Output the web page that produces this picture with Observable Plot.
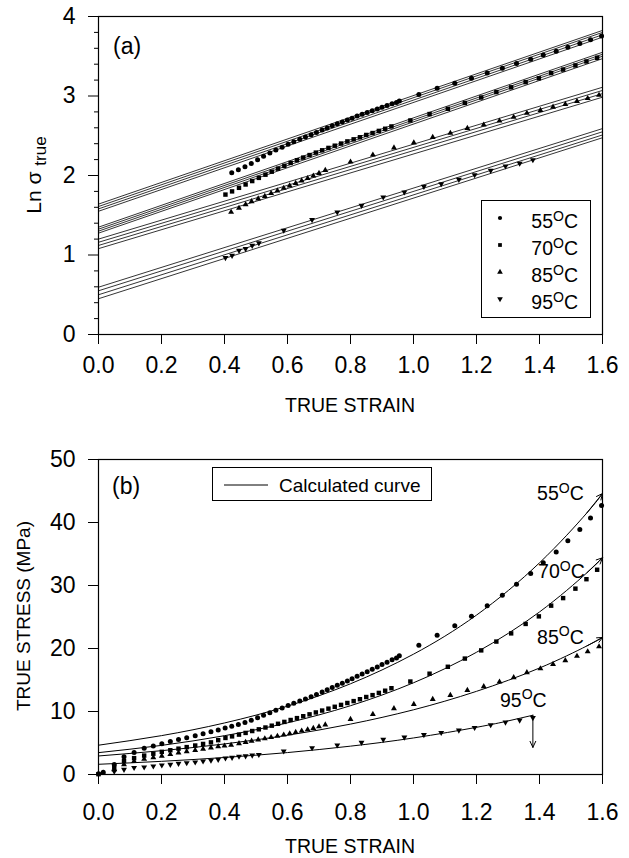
<!DOCTYPE html>
<html><head><meta charset="utf-8">
<script src="https://cdn.jsdelivr.net/npm/d3@7"></script>
<script src="https://cdn.jsdelivr.net/npm/@observablehq/plot@0.6"></script>
<style>
html,body{margin:0;padding:0;background:#fff;overflow:hidden;}
#chart{width:629px;height:858px;}
#chart svg{display:block;}
</style></head><body><div id="chart"></div>
<script>
// ---------- tick values ----------
const xTicks = [0, 0.2, 0.4, 0.6, 0.8, 1.0, 1.2, 1.4, 1.6];
const yTicksA = [0, 1, 2, 3, 4];
const yMinorA = [0.2,0.4,0.6,0.8,1.2,1.4,1.6,1.8,2.2,2.4,2.6,2.8,3.2,3.4,3.6,3.8];
const yTicksB = [0, 10, 20, 30, 40, 50];
const temps = ["55", "70", "85", "95"];

// ---------- panel (a): ln(true stress) data points [strain, ln σ] ----------
const pts55a = [[0.423,2.035],[0.444,2.073],[0.465,2.11],[0.485,2.152],[0.505,2.197],[0.524,2.241],[0.544,2.282],[0.563,2.322],[0.583,2.356],[0.602,2.393],[0.62,2.425],[0.639,2.455],[0.657,2.485],[0.675,2.514],[0.692,2.542],[0.71,2.573],[0.726,2.599],[0.742,2.625],[0.758,2.65],[0.774,2.674],[0.79,2.698],[0.805,2.721],[0.821,2.747],[0.837,2.769],[0.853,2.791],[0.869,2.815],[0.885,2.836],[0.9,2.859],[0.916,2.879],[0.932,2.901],[0.946,2.918],[0.955,2.936],[1.017,3.02],[1.075,3.096],[1.131,3.161],[1.184,3.223],[1.234,3.288],[1.282,3.348],[1.327,3.408],[1.372,3.463],[1.412,3.515],[1.453,3.564],[1.49,3.614],[1.528,3.661],[1.562,3.706],[1.597,3.754]];
const pts70a = [[0.403,1.76],[0.424,1.8],[0.446,1.845],[0.467,1.887],[0.488,1.93],[0.509,1.97],[0.53,2.01],[0.55,2.048],[0.57,2.086],[0.59,2.122],[0.61,2.158],[0.63,2.192],[0.65,2.225],[0.67,2.257],[0.69,2.288],[0.71,2.317],[0.73,2.347],[0.75,2.375],[0.77,2.402],[0.79,2.429],[0.81,2.455],[0.83,2.481],[0.85,2.51],[0.87,2.534],[0.89,2.561],[0.91,2.588],[0.93,2.617],[0.99,2.692],[1.051,2.773],[1.109,2.839],[1.163,2.912],[1.215,2.981],[1.263,3.049],[1.31,3.109],[1.356,3.174],[1.398,3.223],[1.437,3.288],[1.475,3.332],[1.514,3.384],[1.549,3.434],[1.583,3.481]];
const pts85a = [[0.421,1.54],[0.446,1.59],[0.467,1.635],[0.486,1.673],[0.507,1.707],[0.528,1.74],[0.548,1.775],[0.568,1.808],[0.588,1.841],[0.607,1.872],[0.626,1.902],[0.645,1.934],[0.664,1.964],[0.682,1.995],[0.7,2.028],[0.72,2.067],[0.8,2.171],[0.871,2.259],[0.938,2.349],[1.001,2.412],[1.061,2.481],[1.117,2.533],[1.171,2.594],[1.223,2.637],[1.273,2.688],[1.318,2.734],[1.36,2.785],[1.403,2.821],[1.443,2.862],[1.482,2.896],[1.519,2.934],[1.553,2.97],[1.589,3.011]];
const pts95a = [[0.403,0.965],[0.424,0.994],[0.446,1.057],[0.467,1.078],[0.488,1.12],[0.509,1.15],[0.588,1.31],[0.678,1.443],[0.758,1.539],[0.835,1.623],[0.904,1.727],[0.971,1.79],[1.033,1.862],[1.088,1.895],[1.144,1.949],[1.194,2.007],[1.245,2.063],[1.292,2.118],[1.337,2.152],[1.379,2.197]];

// fitted straight lines in (a): value at strain 0 and at strain 1.6 (four lines per temperature)
const lineStrainEnds = [0, 1.6];
const lines55a = [[1.55,3.74],[1.58,3.77],[1.61,3.80],[1.64,3.825]];
const lines70a = [[1.275,3.47],[1.30,3.50],[1.325,3.525],[1.35,3.55]];
const lines85a = [[1.08,2.985],[1.12,3.03],[1.16,3.07],[1.20,3.11]];
const lines95a = [[0.45,2.475],[0.50,2.51],[0.55,2.55],[0.595,2.59]];

// ---------- panel (b): true stress data points [strain, MPa] ----------
const pts55b = [[0,0.1],[0.015,0.35],[0.05,1.6],[0.081,2.8],[0.113,3.5],[0.145,4.16],[0.174,4.53],[0.201,4.9],[0.228,5.22],[0.254,5.54],[0.28,5.85],[0.307,6.15],[0.332,6.45],[0.357,6.78],[0.38,7.05],[0.402,7.38],[0.423,7.65],[0.444,7.95],[0.465,8.25],[0.485,8.6],[0.505,9.0],[0.524,9.4],[0.544,9.8],[0.563,10.2],[0.583,10.55],[0.602,10.95],[0.62,11.3],[0.639,11.65],[0.657,12.0],[0.675,12.35],[0.692,12.7],[0.71,13.1],[0.726,13.45],[0.742,13.8],[0.758,14.15],[0.774,14.5],[0.79,14.85],[0.805,15.2],[0.821,15.6],[0.837,15.95],[0.853,16.3],[0.869,16.7],[0.885,17.05],[0.9,17.45],[0.916,17.8],[0.932,18.2],[0.946,18.5],[0.955,18.85],[1.017,20.5],[1.075,22.1],[1.131,23.6],[1.184,25.1],[1.234,26.8],[1.282,28.45],[1.327,30.2],[1.372,31.9],[1.412,33.6],[1.453,35.3],[1.49,37.1],[1.528,38.9],[1.562,40.7],[1.597,42.7]];
const pts70b = [[0,0.05],[0.05,1.1],[0.081,2.15],[0.113,2.6],[0.145,3.0],[0.174,3.3],[0.201,3.6],[0.228,3.85],[0.254,4.1],[0.28,4.35],[0.307,4.6],[0.332,4.85],[0.357,5.1],[0.38,5.45],[0.403,5.8],[0.424,6.05],[0.446,6.33],[0.467,6.6],[0.488,6.9],[0.509,7.17],[0.53,7.46],[0.55,7.75],[0.57,8.05],[0.59,8.35],[0.61,8.65],[0.63,8.95],[0.65,9.25],[0.67,9.55],[0.69,9.85],[0.71,10.15],[0.73,10.45],[0.75,10.75],[0.77,11.05],[0.79,11.35],[0.81,11.65],[0.83,11.95],[0.85,12.3],[0.87,12.6],[0.89,12.95],[0.91,13.3],[0.93,13.7],[0.99,14.76],[1.051,16.0],[1.109,17.1],[1.163,18.4],[1.215,19.7],[1.263,21.1],[1.31,22.4],[1.356,23.9],[1.398,25.1],[1.437,26.8],[1.475,28.0],[1.514,29.5],[1.549,31.0],[1.583,32.5]];
const pts85b = [[0.015,0.2],[0.05,0.8],[0.081,1.6],[0.113,2.1],[0.145,2.45],[0.174,2.7],[0.201,2.95],[0.228,3.2],[0.254,3.45],[0.28,3.65],[0.307,3.85],[0.332,4.05],[0.357,4.25],[0.38,4.45],[0.4,4.55],[0.421,4.66],[0.446,4.92],[0.467,5.13],[0.486,5.33],[0.507,5.51],[0.528,5.7],[0.548,5.9],[0.568,6.1],[0.588,6.3],[0.607,6.5],[0.626,6.7],[0.645,6.92],[0.664,7.13],[0.682,7.35],[0.7,7.6],[0.72,7.9],[0.8,8.77],[0.871,9.57],[0.938,10.47],[1.001,11.16],[1.061,11.95],[1.117,12.59],[1.171,13.38],[1.223,13.97],[1.273,14.7],[1.318,15.4],[1.36,16.2],[1.403,16.8],[1.443,17.5],[1.482,18.1],[1.519,18.8],[1.553,19.5],[1.589,20.3]];
const pts95b = [[0.05,0.5],[0.081,0.8],[0.113,1.08],[0.145,1.17],[0.174,1.33],[0.201,1.48],[0.228,1.59],[0.254,1.75],[0.28,1.85],[0.307,1.96],[0.332,2.12],[0.357,2.23],[0.38,2.38],[0.403,2.6],[0.424,2.7],[0.446,2.88],[0.467,2.94],[0.488,3.06],[0.509,3.15],[0.588,3.7],[0.678,4.23],[0.758,4.66],[0.835,5.07],[0.904,5.55],[0.971,5.9],[1.033,6.3],[1.088,6.65],[1.144,7.02],[1.194,7.44],[1.245,7.87],[1.292,8.3],[1.337,8.6],[1.379,9.0]];

// calculated curves in (b)
const curveX = [0, 0.2, 0.4, 0.6, 0.8, 1.0, 1.2, 1.4, 1.55, 1.6];
const curve55 = [4.65, 6.17, 8.18, 10.85, 14.4, 19.1, 25.3, 33.6, 41.5, 44.6];
const curve70 = [3.47, 4.62, 6.16, 8.2, 10.92, 14.56, 19.4, 25.8, 32.0, 34.4];
const curve85 = [2.94, 3.78, 4.85, 6.23, 8.0, 10.27, 13.2, 16.9, 20.4, 21.75];
const curve95X = [0, 0.2, 0.4, 0.6, 0.8, 1.0, 1.2, 1.3, 1.379];
const curve95 = [1.62, 2.09, 2.70, 3.48, 4.5, 5.8, 7.49, 8.5, 9.41];
// vertical arrow under the 95 °C curve end: strain, from, to
const arrow95 = [1.379, 9.41, 4.3];
// curve label anchors (left / baseline) in data units
const curveLabels = [["55", 1.394, 43.5], ["70", 1.397, 31.1], ["85", 1.394, 20.7], ["95", 1.276, 10.7]];

// ---------- helpers ----------
const FONT = "'Liberation Sans', Arial, Helvetica, sans-serif";
const triDown = {draw(ctx, size) {
  const s = Math.sqrt(size * 4 / Math.sqrt(3)), h = s * Math.sqrt(3) / 2;
  ctx.moveTo(0, h * 2 / 3); ctx.lineTo(-s / 2, -h / 3); ctx.lineTo(s / 2, -h / 3); ctx.closePath();
}};
const symbols = {"55": "circle", "70": "square", "85": "triangle", "95": triDown};
const radii = {"55": 2.5, "70": 2.5, "85": 2.2, "95": 2.2};
const toRows = (arr, t) => arr.map(([x, y]) => ({x, y, t}));
const fmt1 = d3.format(".1f");
const fmt0 = d3.format("d");

function degText(sel, num) {
  sel.append("tspan").text(num);
  sel.append("tspan").attr("font-size", "0.72em").attr("dy", "-0.52em").text("O");
  sel.append("tspan").attr("dy", "0.375em").text("C");
}

// ---------- panel (a) ----------
const ptsA = {"55": pts55a, "70": pts70a, "85": pts85a, "95": pts95a};
const linesA = {"55": lines55a, "70": lines70a, "85": lines85a, "95": lines95a};
const lineRowsA = [];
temps.forEach(t => linesA[t].forEach((pair, i) => pair.forEach((v, j) =>
  lineRowsA.push({x: lineStrainEnds[j], y: v, id: t + "-" + i}))));

const chartA = Plot.plot({
  width: 629, height: 420,
  marginLeft: 98, marginRight: 27, marginTop: 16, marginBottom: 86,
  style: {fontFamily: FONT, fontSize: "23px", color: "black", background: "white"},
  x: {domain: [0, 1.6]},
  y: {domain: [0, 4]},
  marks: [
    Plot.line(lineRowsA, {x: "x", y: "y", z: "id", stroke: "black", strokeWidth: 0.8}),
    ...temps.map(t => Plot.dot(toRows(ptsA[t], t), {x: "x", y: "y", symbol: symbols[t], r: radii[t], fill: "black"})),
    Plot.axisX({ticks: xTicks, tickFormat: fmt1, tickSize: 10, tickPadding: 12, label: null}),
    Plot.axisY({ticks: yTicksA, tickFormat: fmt0, tickSize: 10, tickPadding: 13, label: null}),
    Plot.axisY({ticks: yMinorA, tickSize: 4, tickFormat: () => "", label: null}),
    Plot.frame({stroke: "black", strokeWidth: 1.2})
  ]
});

// ---------- panel (b) ----------
const ptsB = {"55": pts55b, "70": pts70b, "85": pts85b, "95": pts95b};
const curveRows = [
  ...curveX.map((x, i) => ({x, y: curve55[i], t: "55"})),
  ...curveX.map((x, i) => ({x, y: curve70[i], t: "70"})),
  ...curveX.map((x, i) => ({x, y: curve85[i], t: "85"})),
  ...curve95X.map((x, i) => ({x, y: curve95[i], t: "95"}))
];
const headRows = [curve55, curve70, curve85].map(c => {
  const n = curveX.length;
  return {x1: curveX[n - 2], y1: c[n - 2], x2: curveX[n - 1], y2: c[n - 1]};
});
headRows.push({x1: arrow95[0], y1: arrow95[1], x2: arrow95[0], y2: arrow95[2]});

const chartB = Plot.plot({
  width: 629, height: 438,
  marginLeft: 98, marginRight: 27, marginTop: 39, marginBottom: 84,
  style: {fontFamily: FONT, fontSize: "23px", color: "black", background: "white"},
  x: {domain: [0, 1.6]},
  y: {domain: [0, 50]},
  marks: [
    Plot.line(curveRows, {x: "x", y: "y", z: "t", stroke: "black", strokeWidth: 1, curve: "natural"}),
    Plot.arrow(headRows, {x1: "x1", y1: "y1", x2: "x2", y2: "y2", stroke: "black", strokeWidth: 1, headLength: 10, headAngle: 50}),
    ...temps.map(t => Plot.dot(toRows(ptsB[t], t), {x: "x", y: "y", symbol: symbols[t], r: radii[t], fill: "black"})),
    Plot.axisX({ticks: xTicks, tickFormat: fmt1, tickSize: 10, tickPadding: 19, label: null}),
    Plot.axisY({ticks: yTicksB, tickFormat: fmt0, tickSize: 10, tickPadding: 13, label: null}),
    Plot.frame({stroke: "black", strokeWidth: 1.2})
  ]
});

// ---------- annotations ----------
const sA = d3.select(chartA);
sA.append("text").attr("x", 113).attr("y", 54).attr("text-anchor", "start")
  .attr("font-size", 23).text("(a)");
const yTitleA = sA.append("text").attr("transform", "translate(41,175) rotate(-90)")
  .attr("text-anchor", "middle").attr("font-size", 21);
yTitleA.append("tspan").text("Ln σ ");
yTitleA.append("tspan").attr("font-size", 17).attr("dy", 5).text("true");
sA.append("text").attr("x", 350).attr("y", 412).attr("text-anchor", "middle")
  .attr("font-size", 19.5).text("TRUE STRAIN");
// legend (a)
const legA = sA.append("g");
legA.append("rect").attr("x", 481.5).attr("y", 200.5).attr("width", 109).attr("height", 117)
  .attr("fill", "white").attr("stroke", "black").attr("stroke-width", 1);
const legSym = {"55": d3.symbolCircle, "70": d3.symbolSquare, "85": d3.symbolTriangle};
temps.forEach((t, i) => {
  const cy = 222 + i * 27;
  const sym = symbols[t] === triDown ? triDown : legSym[t];
  legA.append("path").attr("transform", `translate(500,${cy - 4})`)
    .attr("d", d3.symbol(sym, 14)()).attr("fill", "black");
  const tx = legA.append("text").attr("x", 578).attr("y", cy + 6).attr("text-anchor", "end")
    .attr("font-size", 19.5);
  degText(tx, t);
});

const sB = d3.select(chartB);
sB.append("text").attr("x", 112).attr("y", 74).attr("text-anchor", "start")
  .attr("font-size", 23).text("(b)");
sB.append("text").attr("transform", "translate(29.5,196) rotate(-90)")
  .attr("text-anchor", "middle").attr("font-size", 19).text("TRUE STRESS (MPa)");
sB.append("text").attr("x", 350).attr("y", 433).attr("text-anchor", "middle")
  .attr("font-size", 19.5).text("TRUE STRAIN");
// legend (b)
const legB = sB.append("g");
legB.append("rect").attr("x", 212.5).attr("y", 47.5).attr("width", 219).attr("height", 33)
  .attr("fill", "white").attr("stroke", "black").attr("stroke-width", 1);
legB.append("line").attr("x1", 224).attr("x2", 268).attr("y1", 65).attr("y2", 65)
  .attr("stroke", "black").attr("stroke-width", 1);
legB.append("text").attr("x", 279).attr("y", 72).attr("text-anchor", "start")
  .attr("font-size", 19).text("Calculated curve");
// curve labels
const xs = chartB.scale("x"), ys = chartB.scale("y");
curveLabels.forEach(([t, x, y]) => {
  const tx = sB.append("text").attr("x", xs.apply(x)).attr("y", ys.apply(y))
    .attr("text-anchor", "start").attr("font-size", 19.5);
  degText(tx, t);
});

document.getElementById("chart").append(chartA, chartB);
</script>
</body></html>
